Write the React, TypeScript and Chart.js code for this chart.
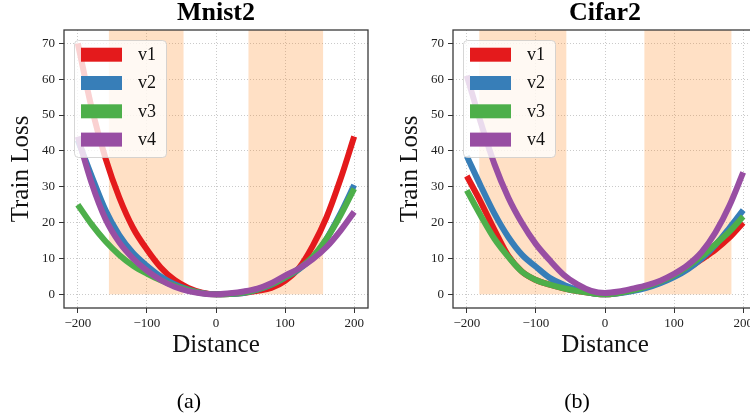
import React, { useEffect, useRef } from "react";
import { Chart, registerables } from "chart.js";

Chart.register(...registerables);

// ---- data ----
const distances = [-200, -180, -160, -140, -120, -100, -80, -60, -40, -20, 0, 20, 40, 60, 80, 100, 120, 140, 160, 180, 200];

const mnistV1 = [70, 52, 38, 27, 18.5, 12.5, 7.5, 4, 1.8, 0.5, 0, 0.1, 0.4, 1, 1.8, 3.8, 7.3, 13.5, 21.5, 32, 44];
const mnistV2 = [43, 33, 23.5, 16.5, 11.5, 8, 5, 2.8, 1.3, 0.35, 0, 0.1, 0.4, 1.3, 2.7, 4.7, 7, 10.3, 15.5, 22.5, 30.5];
const mnistV3 = [25, 19.5, 14.8, 11, 8, 5.8, 3.9, 2.4, 1.2, 0.35, 0, 0.1, 0.5, 1.4, 2.8, 4.8, 7.2, 10.5, 15.5, 22, 29.5];
const mnistV4 = [44, 31, 21, 14.5, 10, 6.6, 4, 2.1, 0.9, 0.25, 0, 0.3, 0.8, 1.6, 3.1, 5.2, 7.2, 9.8, 13.2, 17.7, 23];

const cifarV1 = [33, 25.8, 18, 10.8, 6.3, 4, 2.7, 1.7, 0.9, 0.35, 0, 0.4, 1.1, 2.1, 3.4, 5.1, 7.3, 9.8, 12.5, 15.8, 20];
const cifarV2 = [38.5, 30.3, 22.5, 16, 11, 7.7, 4.6, 2.7, 1.3, 0.4, 0, 0.3, 0.9, 1.8, 3.1, 4.8, 7, 10, 13.8, 18.5, 23.5];
const cifarV3 = [29, 22, 15.5, 10.5, 6.3, 4, 2.7, 1.7, 0.9, 0.35, 0, 0.4, 1.1, 2.2, 3.6, 5.4, 7.8, 10.7, 14, 17.5, 21.7];
const cifarV4 = [61, 48, 36.3, 27, 19.8, 14, 9.5, 5.5, 2.8, 1, 0.4, 0.8, 1.6, 2.5, 3.8, 5.7, 8.2, 11.8, 17.3, 24.7, 34];

const seriesNames = ["v1", "v2", "v3", "v4"];
const seriesColors = ["#e41a1c", "#377eb8", "#4daf4a", "#984ea3"];

const mnistBands = [[-155, -47], [47, 155]];
const cifarBands = [[-182, -56], [57, 183]];

const xTickValues = [-200, -100, 0, 100, 200];
const yTickValues = [0, 10, 20, 30, 40, 50, 60, 70];

const SERIF = '"Liberation Serif", "Times New Roman", serif';

function fmtTick(v: number | string) {
  const n = Number(v);
  return n < 0 ? "\u2212" + Math.abs(n) : String(n);
}

function roundRectPath(ctx: CanvasRenderingContext2D, x: number, y: number, w: number, h: number, r: number) {
  ctx.beginPath();
  ctx.moveTo(x + r, y);
  ctx.lineTo(x + w - r, y);
  ctx.arcTo(x + w, y, x + w, y + r, r);
  ctx.lineTo(x + w, y + h - r);
  ctx.arcTo(x + w, y + h, x + w - r, y + h, r);
  ctx.lineTo(x + r, y + h);
  ctx.arcTo(x, y + h, x, y + h - r, r);
  ctx.lineTo(x, y + r);
  ctx.arcTo(x, y, x + r, y, r);
  ctx.closePath();
}

type Props = { title: string; series: number[][]; bands: number[][]; left: number };

function LossChart({ title, series, bands, left }: Props) {
  const ref = useRef<HTMLCanvasElement | null>(null);

  useEffect(() => {
    if (!ref.current) return;

    const bandPlugin = {
      id: "bands",
      beforeDatasetsDraw(chart: any) {
        const { ctx, chartArea, scales } = chart;
        const x = scales.x;
        const y = scales.y;
        const y0 = y.getPixelForValue(0);
        ctx.save();
        ctx.fillStyle = "rgba(255,127,14,0.24)";
        for (const [a, b] of bands) {
          const xa = x.getPixelForValue(a);
          const xb = x.getPixelForValue(b);
          ctx.fillRect(xa, chartArea.top, xb - xa, y0 - chartArea.top);
        }
        ctx.restore();
      },
    };

    const decorPlugin = {
      id: "decor",
      afterDatasetsDraw(chart: any) {
        const { ctx, chartArea } = chart;
        ctx.save();
        // legend
        const bx = chartArea.left + 10;
        const by = chartArea.top + 10;
        const bw = 92;
        const bh = 117;
        roundRectPath(ctx, bx + 0.5, by + 0.5, bw, bh, 4);
        ctx.fillStyle = "rgba(255,255,255,0.8)";
        ctx.fill();
        ctx.strokeStyle = "rgba(204,204,204,0.8)";
        ctx.lineWidth = 1;
        ctx.stroke();
        ctx.font = `18px ${SERIF}`;
        ctx.textBaseline = "middle";
        ctx.textAlign = "left";
        for (let i = 0; i < seriesNames.length; i++) {
          const py = by + 7.7 + i * 28.3;
          ctx.fillStyle = seriesColors[i];
          ctx.fillRect(bx + 7, py, 41, 14);
          ctx.fillStyle = "#111";
          ctx.fillText(seriesNames[i], bx + 64, py + 7.5);
        }
        // frame
        ctx.strokeStyle = "#3a3a3a";
        ctx.lineWidth = 1.3;
        ctx.strokeRect(chartArea.left, chartArea.top, chartArea.right - chartArea.left, chartArea.bottom - chartArea.top);
        // title
        ctx.fillStyle = "#000";
        ctx.font = `bold 26px ${SERIF}`;
        ctx.textAlign = "center";
        ctx.textBaseline = "alphabetic";
        ctx.fillText(title, (chartArea.left + chartArea.right) / 2, 20);
        ctx.restore();
      },
    };

    const gridOpts = {
      color: "#c4c4c4",
      lineWidth: 0.9,
      tickLength: 5,
      tickColor: "#333",
      tickWidth: 1,
      tickBorderDash: [],
    };

    const chart = new Chart(ref.current, {
      type: "line",
      data: {
        datasets: series.map((vals, i) => ({
          label: seriesNames[i],
          data: distances.map((d, j) => ({ x: d, y: vals[j] })),
          borderColor: seriesColors[i],
          backgroundColor: seriesColors[i],
          borderWidth: 6,
          pointRadius: 0,
          fill: false,
          cubicInterpolationMode: "monotone" as const,
          borderCapStyle: "butt" as const,
          borderJoinStyle: "round" as const,
          order: seriesNames.length - i,
        })),
      },
      options: {
        animation: false,
        responsive: false,
        events: [],
        layout: { padding: { left: 0, right: 7, top: 30, bottom: 58 } },
        plugins: {
          legend: { display: false },
          tooltip: { enabled: false },
          title: { display: false },
        },
        scales: {
          x: {
            type: "linear",
            min: -220,
            max: 220,
            afterBuildTicks: (s: any) => {
              s.ticks = xTickValues.map((value) => ({ value }));
            },
            afterFit: (s: any) => {
              s.height = 52;
              s.paddingLeft = 0;
              s.paddingRight = 0;
            },
            ticks: {
              callback: fmtTick,
              font: { family: SERIF, size: 13 },
              color: "#222",
              padding: 3,
              maxRotation: 0,
              autoSkip: false,
            },
            grid: gridOpts,
            border: { display: false, dash: [1, 2] },
            title: {
              display: true,
              text: "Distance",
              font: { family: SERIF, size: 25 },
              color: "#111",
              padding: { top: 0, bottom: 0 },
            },
          },
          y: {
            type: "linear",
            min: -3.8,
            max: 73.7,
            afterBuildTicks: (s: any) => {
              s.ticks = yTickValues.map((value) => ({ value }));
            },
            afterFit: (s: any) => {
              s.width = 64;
              s.paddingTop = 0;
              s.paddingBottom = 0;
            },
            ticks: {
              callback: fmtTick,
              font: { family: SERIF, size: 13 },
              color: "#222",
              padding: 4,
              autoSkip: false,
            },
            grid: gridOpts,
            border: { display: false, dash: [1, 2] },
            title: {
              display: true,
              text: "Train Loss",
              font: { family: SERIF, size: 25 },
              color: "#111",
              padding: { top: 6, bottom: 0 },
            },
          },
        },
      },
      plugins: [bandPlugin, decorPlugin],
    } as any);

    return () => chart.destroy();
  }, [title, series, bands]);

  return (
    <canvas
      ref={ref}
      width={375}
      height={418}
      style={{ position: "absolute", left, top: 0, width: 375, height: 418 }}
    />
  );
}

const captionStyle: React.CSSProperties = {
  position: "absolute",
  top: 389,
  width: 60,
  height: 24,
  lineHeight: "24px",
  textAlign: "center",
  fontFamily: SERIF,
  fontSize: 22,
  color: "#000",
};

export default function App() {
  return (
    <div
      style={{
        position: "absolute",
        left: 0,
        top: 0,
        width: 750,
        height: 418,
        overflow: "hidden",
        background: "#fff",
      }}
    >
      <LossChart title="Mnist2" series={[mnistV1, mnistV2, mnistV3, mnistV4]} bands={mnistBands} left={0} />
      <LossChart title="Cifar2" series={[cifarV1, cifarV2, cifarV3, cifarV4]} bands={cifarBands} left={389} />
      <div style={{ ...captionStyle, left: 189 - 30 }}>(a)</div>
      <div style={{ ...captionStyle, left: 577 - 30 }}>(b)</div>
    </div>
  );
}
